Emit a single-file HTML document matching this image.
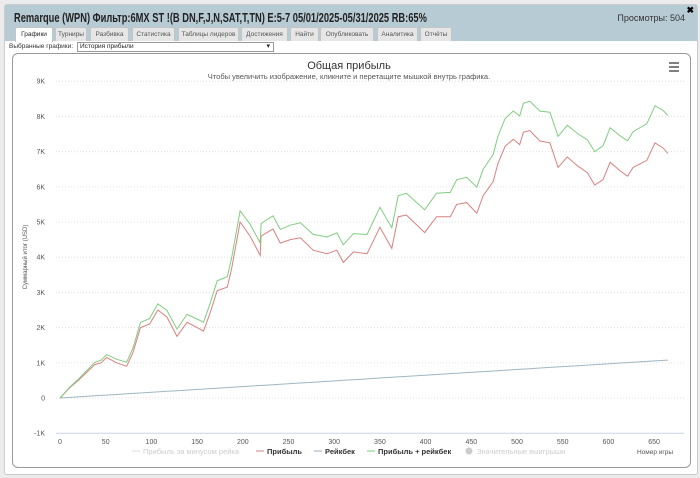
<!DOCTYPE html>
<html><head><meta charset="utf-8">
<style>
body{margin:0;width:700px;height:478px;background:#ececec;font-family:"Liberation Sans","Noto Sans CJK SC",sans-serif;position:relative;overflow:hidden}
#panel{position:absolute;left:4px;top:4px;width:692px;height:469px;background:#fff;border:1px solid #ccc;border-radius:3px}
#hdr{position:absolute;left:0;top:0;width:692px;height:36px;background:#b7cbd4}
#title{position:absolute;left:9px;top:6px;font-size:12.5px;font-weight:bold;color:#222;transform:scaleX(.745);transform-origin:left;white-space:nowrap}
#views{position:absolute;right:12px;top:8px;font-size:9px;color:#333}
#close{position:absolute;right:3px;top:0;font-size:9px;font-weight:bold}
.tab{position:absolute;top:22px;height:13px;background:#e6e6e6;border:1px solid #c4c4c4;border-bottom:none;font-size:6.5px;color:#555;text-align:center;line-height:13px;border-radius:2px 2px 0 0}
.tab.on{background:#fff;height:14px;color:#222}
#sel-l{position:absolute;left:9px;top:43px;font-size:6.5px;color:#333}
#sel{position:absolute;left:77px;top:42px;width:193px;height:8px;border:1px solid #999;font-size:6.5px;line-height:8px;padding-left:2px;color:#222}
#chart{position:absolute;left:12px;top:53px;width:677px;height:413px;border:1px solid #999;border-radius:6px}
</style></head><body>
<div id="panel">
<div id="hdr">
<div id="title">Remarque (WPN) Фильтр:6MX ST !(B DN,F,J,N,SAT,T,TN) E:5-7 05/01/2025-05/31/2025 RB:65%</div>
<div id="views">Просмотры: 504</div>
<div id="close">✖</div>
<div class="tab on" style="left:10px;width:36px">Графики</div>
<div class="tab" style="left:50px;width:30px">Турниры</div>
<div class="tab" style="left:85px;width:37px">Разбивка</div>
<div class="tab" style="left:127px;width:41px">Статистика</div>
<div class="tab" style="left:173px;width:59px">Таблицы лидеров</div>
<div class="tab" style="left:236px;width:45px">Достижения</div>
<div class="tab" style="left:285px;width:27px">Найти</div>
<div class="tab" style="left:315px;width:52px">Опубликовать</div>
<div class="tab" style="left:372px;width:39px">Аналитика</div>
<div class="tab" style="left:415px;width:30px">Отчёты</div>
</div>
</div>
<div id="sel-l">Выбранные графики:</div>
<div id="sel">История прибыли<span style="position:absolute;right:3px;font-size:7px">▾</span></div>
<div id="chart"></div>
<svg id="svg" width="700" height="478" style="position:absolute;left:0;top:0" font-family="Liberation Sans, sans-serif">
<text x="349" y="69" font-size="11" text-anchor="middle" fill="#333">Общая прибыль</text>
<text x="349" y="79" font-size="7.5" text-anchor="middle" fill="#555">Чтобы увеличить изображение, кликните и перетащите мышкой внутрь графика.</text>
<g stroke="#555" stroke-width="1.5"><line x1="669" y1="63" x2="679" y2="63"/><line x1="669" y1="67" x2="679" y2="67"/><line x1="669" y1="71" x2="679" y2="71"/></g>
<text transform="translate(27,257) rotate(-90)" font-size="6" text-anchor="middle" fill="#555">Суммарный итог (USD)</text>
<text x="655" y="454" font-size="6.5" text-anchor="middle" fill="#555">Номер игры</text>
<g id="grid"></g><g id="series"></g>
<g font-size="7.5">
<g><line x1="132" y1="451" x2="140" y2="451" stroke="#ddd"/><text x="143" y="454" fill="#ccc">Прибыль за минусом рейка</text></g>
<g><line x1="256" y1="451" x2="264" y2="451" stroke="#d98080"/><text x="267" y="454" fill="#333" font-weight="bold">Прибыль</text></g>
<g><line x1="314" y1="451" x2="322" y2="451" stroke="#9ab"/><text x="325" y="454" fill="#333" font-weight="bold">Рейкбек</text></g>
<g><line x1="367" y1="451" x2="375" y2="451" stroke="#7c7"/><text x="378" y="454" fill="#333" font-weight="bold">Прибыль + рейкбек</text></g>
<g><circle cx="469" cy="451" r="3.5" fill="#ccc"/><text x="477" y="454" fill="#ccc">Значительные выигрыши</text></g>
</g>
</svg>
<script>
const games=[0,11,20,30,38,45,51,62,73,80,88,98,107,117,128,139,150,157,164,172,183,188,197,208,219,220,233,241,252,263,277,292,303,310,321,336,350,363,370,379,399,412,427,434,445,456,463,474,479,487,496,503,507,514,525,536,545,555,566,577,585,594,602,613,621,627,642,651,660,665];
const profit=[0,300,500,750,950,1000,1150,1000,900,1300,2000,2100,2500,2300,1750,2150,2000,1900,2400,3050,3150,3700,5000,4600,4050,4600,4800,4400,4500,4550,4200,4100,4200,3850,4150,4100,4850,4250,5150,5200,4700,5150,5150,5500,5550,5250,5750,6150,6650,7150,7350,7200,7550,7600,7300,7250,6550,6850,6600,6400,6050,6200,6700,6450,6300,6550,6750,7250,7100,6950];
const rakeback=[0,18,32,49,62,73,83,100,118,130,143,159,173,190,207,225,243,254,266,279,296,305,319,337,355,356,377,390,408,426,449,473,491,502,520,544,567,588,599,614,646,667,692,703,721,739,750,768,776,789,804,815,821,833,851,868,883,899,917,935,948,962,975,993,1006,1016,1040,1055,1069,1077];
const yTicks=[-1000,0,1000,2000,3000,4000,5000,6000,7000,8000,9000];
const yLabels=["-1K","0","1K","2K","3K","4K","5K","6K","7K","8K","9K"];
const xTicks=[0,50,100,150,200,250,300,350,400,450,500,550,600,650];
const NS="http://www.w3.org/2000/svg";
const X=g=>60+g*0.914;
const Y=v=>398-v*0.0352;
const grid=document.getElementById('grid');
yTicks.forEach((t,i)=>{
 const l=document.createElementNS(NS,'line');
 l.setAttribute('x1',56);l.setAttribute('x2',684);l.setAttribute('y1',Y(t));l.setAttribute('y2',Y(t));
 l.setAttribute('stroke',t===-1000?'#ccd6eb':'#e0e0e0');l.setAttribute('stroke-dasharray',t===-1000?'':'1,2');
 
 
 grid.appendChild(l);
 const tx=document.createElementNS(NS,'text');
 tx.setAttribute('x',45);tx.setAttribute('y',Y(t)+2.5);tx.setAttribute('font-size','7');tx.setAttribute('text-anchor','end');tx.setAttribute('fill','#555');
 tx.textContent=yLabels[i];
 
 
 grid.appendChild(tx);
});
xTicks.forEach(t=>{
 const tx=document.createElementNS(NS,'text');
 tx.setAttribute('x',X(t));tx.setAttribute('y',444);tx.setAttribute('font-size','7');tx.setAttribute('text-anchor','middle');tx.setAttribute('fill','#555');
 tx.textContent=t;
 
 
 grid.appendChild(tx);
});
const ser=document.getElementById('series');
function line(vals,color,name){
 const p=document.createElementNS(NS,'polyline');
 p.setAttribute('points',games.map((g,i)=>X(g).toFixed(1)+','+Y(vals[i]).toFixed(1)).join(' '));
 p.setAttribute('fill','none');p.setAttribute('stroke',color);p.setAttribute('stroke-width','1');
 
 
 ser.appendChild(p);
}
line(rakeback,'#9fb6c4','rakeback-line');
line(profit,'#d98080','profit-line');
line(profit.map((v,i)=>v+rakeback[i]),'#80cc80','profit-plus-rakeback-line');
</script>
</body></html>
